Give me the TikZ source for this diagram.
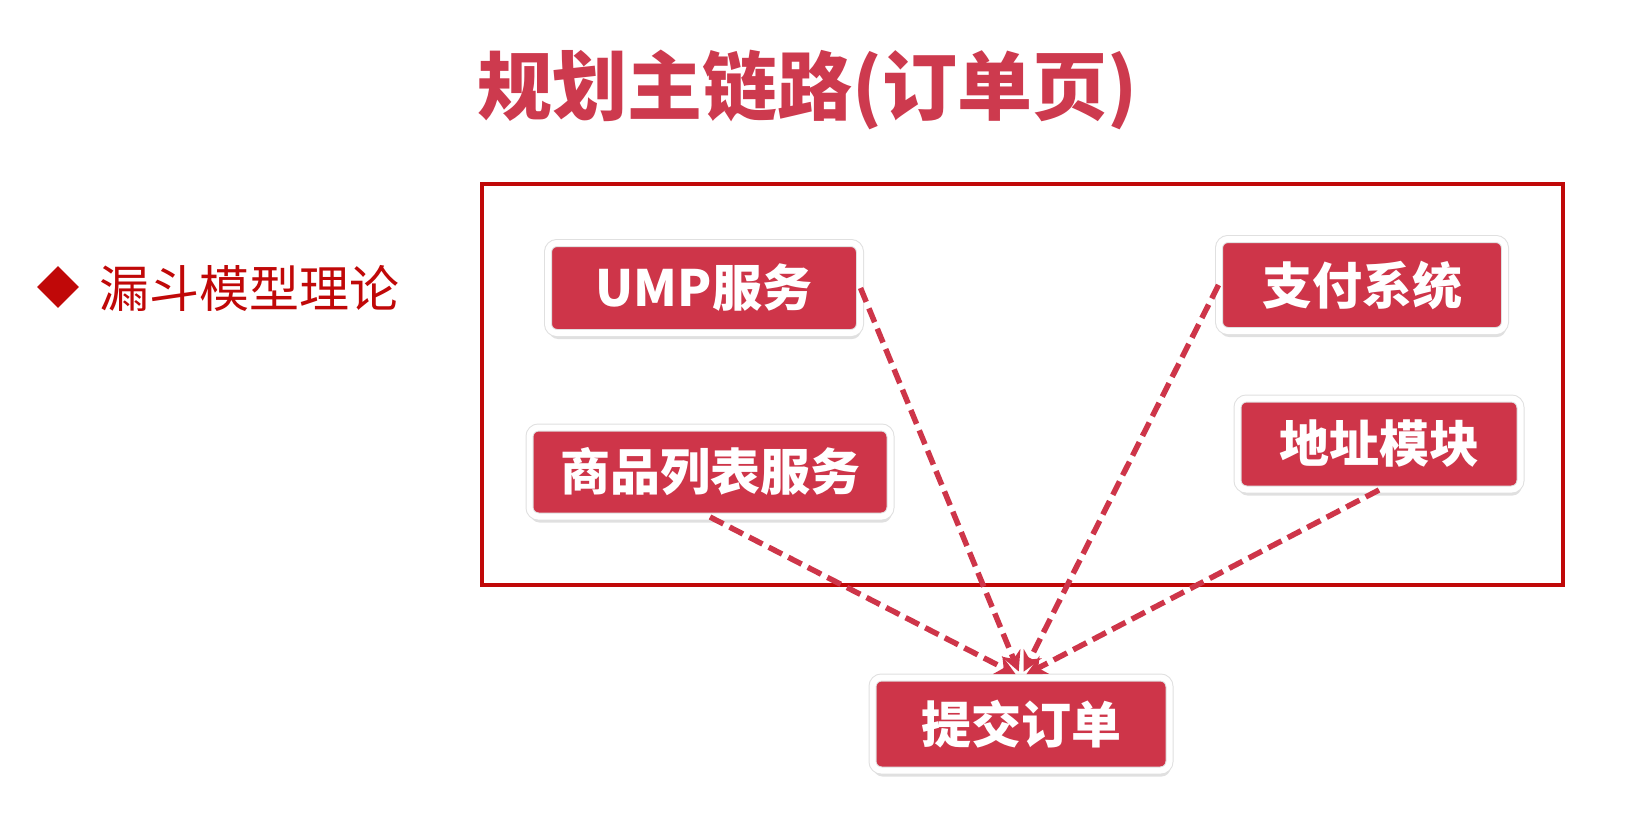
\documentclass[tikz,border=0pt]{standalone}
\usepackage{fontspec}
\setmainfont{Noto Sans CJK SC}
\usetikzlibrary{arrows.meta,shadows,shapes.geometric}
\definecolor{boxred}{RGB}{206,53,73}
\definecolor{framered}{RGB}{192,8,8}
\definecolor{titlered}{RGB}{205,58,78}
\begin{document}
\begin{tikzpicture}[x=1pt,y=-1pt,
		service/.style={rectangle, rounded corners=9pt, fill=boxred, draw=black!12, line width=1pt, double=white, double distance=6pt,
			text=white, inner sep=0, font=\bfseries\fontsize{50}{50}\selectfont,
			drop shadow={shadow xshift=1pt, shadow yshift=-6pt, opacity=0.3, fill=black!40}},
		link/.style={-{Stealth[length=20pt,width=20pt]}, draw=boxred, line width=5.5pt, dash pattern=on 15pt off 7pt, shorten >=6pt}]
		\useasboundingbox [fill=white] (0,0) rectangle (1646,824);
		\node [text=titlered, font=\bfseries\fontsize{75}{75}\selectfont] (title) at (807,90) {规划主链路(订单页)};
		\node [diamond, fill=framered, minimum width=42pt, minimum height=42pt, inner sep=0] (bullet) at (58,287) {};
		\node [anchor=west, text=framered, inner sep=0, font=\fontsize{50}{50}\selectfont] (theory) at (99,288) {漏斗模型理论};
		\draw [framered, line width=3.5pt] (482,184) rectangle (1563,585);
		\node [service, minimum width=312pt, minimum height=90pt] (ump) at (704,288) {UMP服务};
		\node [service, minimum width=361pt, minimum height=89pt] (goods) at (710,472) {商品列表服务};
		\node [service, minimum width=286pt, minimum height=92pt] (pay) at (1362,285) {支付系统};
		\node [service, minimum width=283pt, minimum height=91pt] (addr) at (1379,444) {地址模块};
		\node [service, minimum width=297pt, minimum height=93pt] (submit) at (1021,724) {提交订单};
		\draw [link] (ump.east) -- (submit.north);
		\draw [link] (goods.south) -- (submit.north);
		\draw [link] (pay.west) -- (submit.north);
		\draw [link] (addr.south) -- (submit.north);
	\end{tikzpicture}
\end{document}
